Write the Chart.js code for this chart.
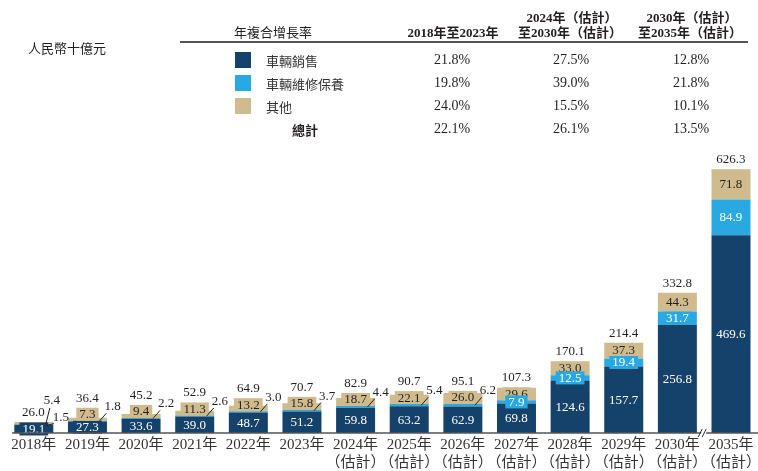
<!DOCTYPE html>
<html>
<head>
<meta charset="utf-8">
<script src="https://cdn.jsdelivr.net/npm/chart.js@4.4.1/dist/chart.umd.min.js"></script>
<style>
  html, body { margin: 0; padding: 0; background: #fff; }
  #wrap { position: relative; width: 758px; height: 471px; overflow: hidden; }
  #c { position: absolute; left: 0; top: 0; }
  .t { position: absolute; white-space: nowrap; color: #231f20; transform: translateY(-50%); }
  .cjk { font-family: "Noto Sans CJK TC", "Noto Sans CJK SC", sans-serif; font-size: 13px; }
  .num { font-family: "Liberation Serif", "Noto Sans CJK TC", serif; font-size: 14px; }
  .hdr { font-family: "Liberation Serif", "Noto Sans CJK TC", serif; font-size: 13px; font-weight: bold; text-align: center; transform: translate(-50%, -50%); }
  .ctr { transform: translate(-50%, -50%); }
  .sq { position: absolute; width: 16px; height: 16px; transform: translateY(-50%); }
</style>
</head>
<body>
<div id="wrap">
  <canvas id="c" width="764" height="475"></canvas>
</div>
<script>
// ---- data ----
const categories = ['2018年','2019年','2020年','2021年','2022年','2023年','2024年','2025年','2026年','2027年','2028年','2029年','2030年','2035年'];
const estimated = [false,false,false,false,false,false,true,true,true,true,true,true,true,true];
const vehicleSales = [19.1,27.3,33.6,39.0,48.7,51.2,59.8,63.2,62.9,69.8,124.6,157.7,256.8,469.6];
const maintenance  = [1.5,1.8,2.2,2.6,3.0,3.7,4.4,5.4,6.2,7.9,12.5,19.4,31.7,84.9];
const others       = [5.4,7.3,9.4,11.3,13.2,15.8,18.7,22.1,26.0,29.6,33.0,37.3,44.3,71.8];
const totals       = [26.0,36.4,45.2,52.9,64.9,70.7,82.9,90.7,95.1,107.3,170.1,214.4,332.8,626.3];

const seriesNames = ['車輛銷售','車輛維修保養','其他'];
const cagrRowLabels = ['車輛銷售','車輛維修保養','其他','總計'];
const cagrHeaders = [['2018年至2023年'], ['2024年（估計）','至2030年（估計）'], ['2030年（估計）','至2035年（估計）']];
const cagr2018_2023 = ['21.8%','19.8%','24.0%','22.1%'];
const cagr2024_2030 = ['27.5%','39.0%','15.5%','26.1%'];
const cagr2030_2035 = ['12.8%','21.8%','10.1%','13.5%'];

// ---- styles ----
const COL = { dark: '#15426b', blue: '#29a9e1', tan: '#cfbb8d', text: '#231f20' };
const colors = [COL.dark, COL.blue, COL.tan];
const SERIF = '"Liberation Serif", "Noto Sans CJK TC", serif';

// ---- table overlay ----
const wrap = document.getElementById('wrap');
function addDiv(cls, text, left, top, extra) {
  const d = document.createElement('div');
  d.className = cls;
  d.textContent = text;
  d.style.left = left + 'px';
  d.style.top = top + 'px';
  if (extra) Object.assign(d.style, extra);
  wrap.appendChild(d);
  return d;
}
addDiv('t cjk', '人民幣十億元', 28, 47);
addDiv('t cjk', '年複合增長率', 234, 31);
const line = document.createElement('div');
Object.assign(line.style, { position: 'absolute', left: '180px', top: '41px', width: '568px', height: '2px', background: '#555' });
wrap.appendChild(line);
const colX = [453, 570, 690];
cagrHeaders.forEach((h, k) => {
  if (h.length === 1) addDiv('t hdr', h[0], colX[k], 31);
  else { addDiv('t hdr', h[0], colX[k] + 2, 16); addDiv('t hdr', h[1], colX[k], 31); }
});
const rowY = [60, 83, 106, 129];
const cols = [cagr2018_2023, cagr2024_2030, cagr2030_2035];
const valX = [452, 571, 691];
cagrRowLabels.forEach((lab, r) => {
  if (r < 3) {
    const s = document.createElement('div');
    s.className = 'sq';
    s.style.left = '235px'; s.style.top = rowY[r] + 'px'; s.style.background = colors[r];
    wrap.appendChild(s);
    addDiv('t cjk', lab, 266, rowY[r], { color: '#333' });
  } else {
    addDiv('t cjk', lab, 292, rowY[r], { fontWeight: 'bold' });
  }
  cols.forEach((arr, k) => addDiv('t num ctr', arr[r], valX[k], rowY[r]));
});

// ---- labels plugin ----
function box(ctx, txt, x, y, bg, fg) {
  const w = ctx.measureText(txt).width + 6;
  const h = 13;
  ctx.fillStyle = bg;
  ctx.fillRect(x - w / 2, y - h / 2, w, h);
  ctx.fillStyle = fg;
  ctx.textAlign = 'center';
  ctx.textBaseline = 'middle';
  ctx.fillText(txt, x, y + 0.5);
}
function leader(ctx, x1, y1, x2, y2) {
  ctx.strokeStyle = COL.text;
  ctx.lineWidth = 1;
  ctx.beginPath(); ctx.moveTo(x1, y1); ctx.lineTo(x2, y2); ctx.stroke();
}
const labelPlugin = {
  id: 'segLabels',
  afterDatasetsDraw(chart) {
    const ctx = chart.ctx;
    const m0 = chart.getDatasetMeta(0).data;
    const m1 = chart.getDatasetMeta(1).data;
    const m2 = chart.getDatasetMeta(2).data;
    ctx.save();
    ctx.font = '13px ' + SERIF;
    for (let i = 0; i < categories.length; i++) {
      const d = m0[i], b = m1[i], t = m2[i];
      const c = d.x;
      // dark segment
      box(ctx, vehicleSales[i].toFixed(1), c, (d.y + d.base) / 2, COL.dark, '#fff');
      // tan segment
      let topRef;
      if (i === 0) {
        ctx.fillStyle = COL.text;
        ctx.textBaseline = 'bottom';
        ctx.textAlign = 'left';
        ctx.fillText(others[i].toFixed(1), c + 10, t.y - 15);
        leader(ctx, c + 12, (t.y + t.base) / 2 + 1, c + 16, t.y - 14);
        // blue outside
        const by = (b.y + b.base) / 2;
        ctx.fillStyle = COL.text;
        ctx.textAlign = 'left';
        ctx.fillText(maintenance[i].toFixed(1), c + 19, by - 1);
        leader(ctx, c + 12, by + 1, c + 20, by - 1);
        // total
        ctx.textAlign = 'right';
        ctx.fillText(totals[i].toFixed(1), c + 11, t.y - 3);
        continue;
      }
      const tH = t.base - t.y;
      const ty = tH >= 13 ? (t.y + t.base) / 2 : t.base - 6.5;
      box(ctx, others[i].toFixed(1), c, ty, COL.tan, COL.text);
      topRef = Math.min(t.y, ty - 6.5);
      // blue segment
      const by = (b.y + b.base) / 2;
      if (i <= 8) {
        leader(ctx, c + 12, by, c + 19, by - 8);
        ctx.fillStyle = COL.text;
        ctx.textAlign = 'left';
        ctx.textBaseline = 'bottom';
        ctx.fillText(maintenance[i].toFixed(1), c + 17, by - 8);
      } else {
        box(ctx, maintenance[i].toFixed(1), c, by, COL.blue, '#fff');
      }
      // total
      ctx.fillStyle = COL.text;
      ctx.textAlign = 'center';
      ctx.textBaseline = 'bottom';
      ctx.fillText(totals[i].toFixed(1), c, topRef - 3);
    }
    // axis line
    const y0 = chart.chartArea.bottom;
    ctx.strokeStyle = '#555';
    ctx.lineWidth = 1.5;
    ctx.beginPath(); ctx.moveTo(12, y0); ctx.lineTo(764, y0); ctx.stroke();
    // break mark
    const bx = (m0[12].x + m0[13].x) / 2;
    ctx.fillStyle = '#fff';
    ctx.fillRect(bx - 3, y0 - 2, 5, 4);
    ctx.strokeStyle = '#333';
    ctx.lineWidth = 1;
    ctx.beginPath();
    ctx.moveTo(bx - 6, y0 + 4); ctx.lineTo(bx - 2, y0 - 4);
    ctx.moveTo(bx - 2, y0 + 4); ctx.lineTo(bx + 2, y0 - 4);
    ctx.stroke();
    ctx.restore();
  }
};

const labels = categories.map((c, i) => estimated[i] ? [c, '（估計）'] : c);

new Chart(document.getElementById('c'), {
  type: 'bar',
  data: {
    labels: labels,
    datasets: [
      { label: seriesNames[0], data: vehicleSales, backgroundColor: COL.dark },
      { label: seriesNames[1], data: maintenance, backgroundColor: COL.blue },
      { label: seriesNames[2], data: others, backgroundColor: COL.tan }
    ]
  },
  options: {
    responsive: false,
    animation: false,
    devicePixelRatio: 1,
    layout: { padding: { left: 7, right: 0, top: 160, bottom: 0 } },
    datasets: { bar: { categoryPercentage: 1, barPercentage: 0.727, borderWidth: 0 } },
    plugins: { legend: { display: false }, tooltip: { enabled: false } },
    scales: {
      x: {
        stacked: true,
        grid: { display: false, drawTicks: false },
        border: { display: false },
        ticks: {
          autoSkip: false, maxRotation: 0, minRotation: 0, padding: 3,
          color: '#333',
          font: { family: SERIF, size: 15, lineHeight: 1.2 }
        }
      },
      y: { stacked: true, display: false, min: 0, max: 648 }
    }
  },
  plugins: [labelPlugin]
});
</script>
</body>
</html>
